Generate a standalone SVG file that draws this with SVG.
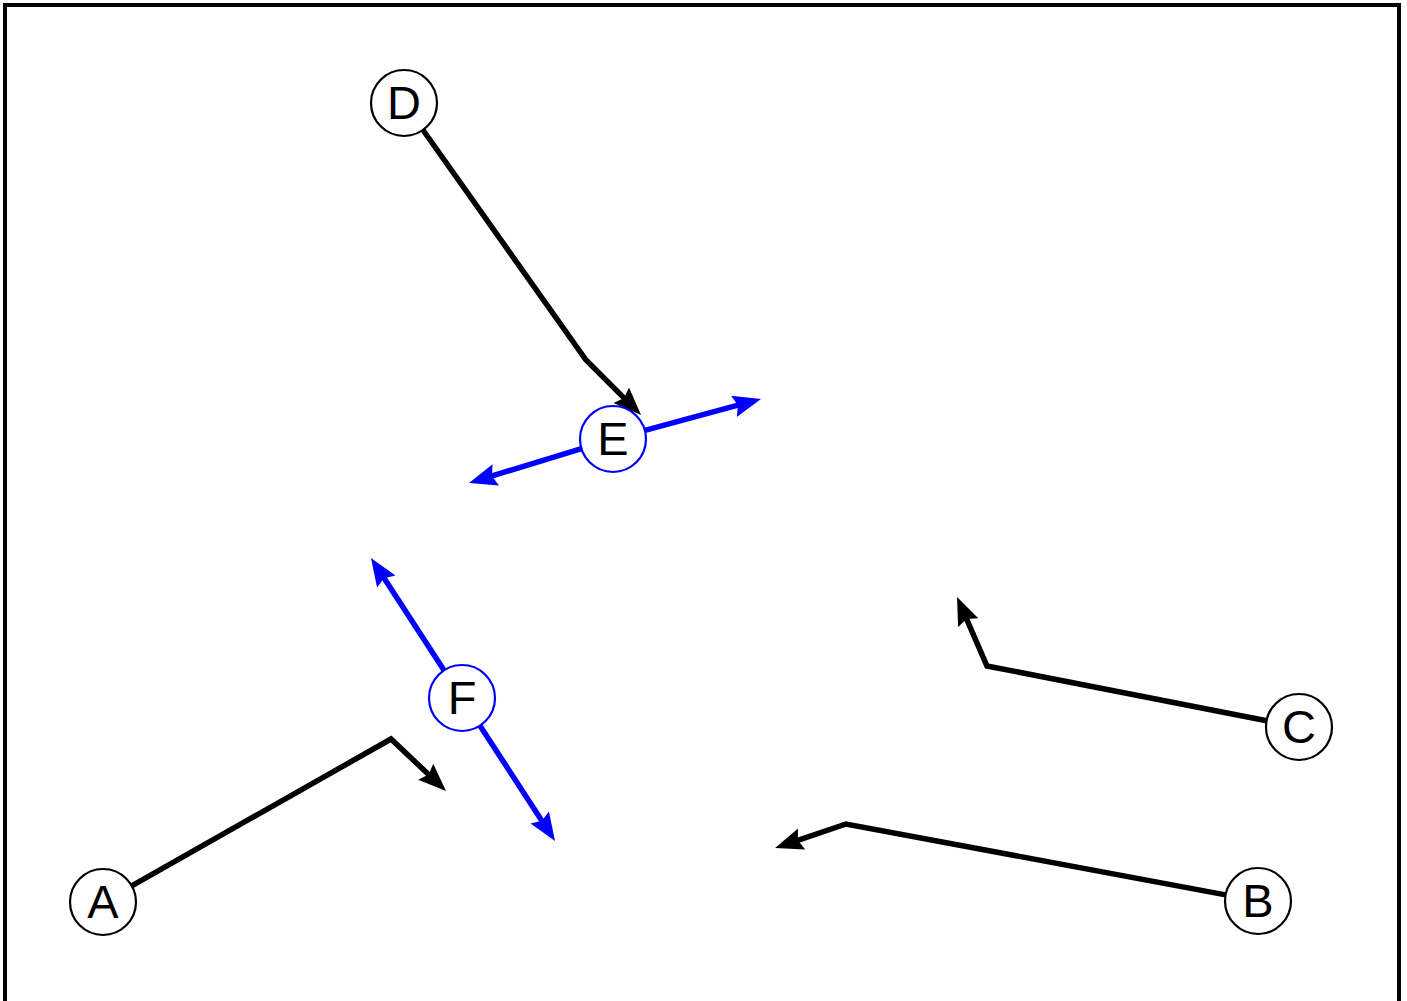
<svg xmlns="http://www.w3.org/2000/svg" width="1407" height="1001" viewBox="0 0 1407 1001">
<style>
.node circle{fill:#fff;stroke-width:2.2}
.blk circle{stroke:#000}
.blu circle{stroke:#0000ff}
.node text{font-family:"Liberation Sans",Arial,sans-serif;font-size:47px;text-anchor:middle;fill:#000}
</style>
<defs>
<marker id="ak" markerUnits="userSpaceOnUse" markerWidth="32" markerHeight="26" refX="8" refY="11" orient="auto"><path d="M0,0 L28,11 L0,22 L4,11 z" fill="#000"/></marker>
<marker id="ab" markerUnits="userSpaceOnUse" markerWidth="32" markerHeight="26" refX="8" refY="11" orient="auto"><path d="M0,0 L28,11 L0,22 L4,11 z" fill="#0000ff"/></marker>
</defs>
<rect x="0" y="0" width="1407" height="1001" fill="#fff"/>
<rect x="5" y="5" width="1394" height="1010" fill="none" stroke="#000" stroke-width="4"/>
<g id="connectors" fill="none" stroke-width="5.5">
<polyline stroke="#000" points="423,130 586,360 626.9,400.9" marker-end="url(#ak)"/>
<polyline stroke="#000" points="131.7,885.8 391,739 431.5,777.3" marker-end="url(#ak)"/>
<polyline stroke="#000" points="1225.6,894.9 846,824 794,841.6" marker-end="url(#ak)"/>
<polyline stroke="#000" points="1266.6,720.7 987,666 965,615.4" marker-end="url(#ak)"/>
<line stroke="#0000ff" x1="645" y1="430.4" x2="741.7" y2="404.2" marker-end="url(#ab)"/>
<line stroke="#0000ff" x1="581.5" y1="448.6" x2="488.1" y2="477.2" marker-end="url(#ab)"/>
<line stroke="#0000ff" x1="444" y1="670.3" x2="381.9" y2="574.8" marker-end="url(#ab)"/>
<line stroke="#0000ff" x1="480" y1="725.7" x2="544.1" y2="824.2" marker-end="url(#ab)"/>
</g>
<g id="node-D" class="node blk"><circle cx="404" cy="103" r="33"/><text x="404" y="119">D</text></g>
<g id="node-E" class="node blu"><circle cx="613" cy="439" r="33"/><text x="613" y="455">E</text></g>
<g id="node-F" class="node blu"><circle cx="462" cy="698" r="33"/><text x="462" y="714">F</text></g>
<g id="node-A" class="node blk"><circle cx="103" cy="902" r="33"/><text x="103" y="918">A</text></g>
<g id="node-B" class="node blk"><circle cx="1258" cy="901" r="33"/><text x="1258" y="917">B</text></g>
<g id="node-C" class="node blk"><circle cx="1299" cy="727" r="33"/><text x="1299" y="743">C</text></g>
</svg>
